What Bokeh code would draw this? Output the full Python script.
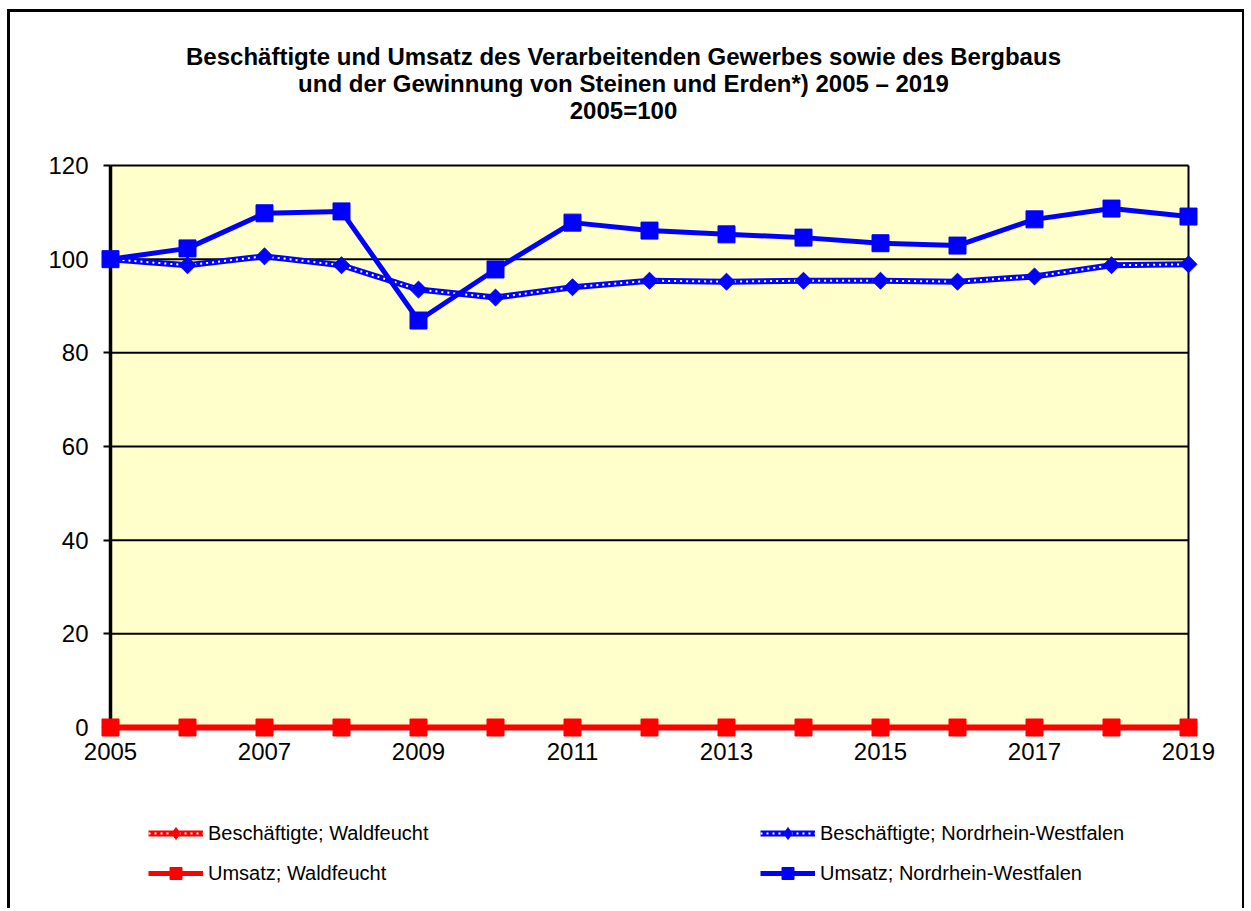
import math
from bokeh.plotting import figure
from bokeh.models import Range1d, FixedTicker, Legend, LegendItem, Title
from bokeh.embed import file_html
from bokeh.resources import INLINE

years = [2005, 2006, 2007, 2008, 2009, 2010, 2011, 2012, 2013, 2014, 2015, 2016, 2017, 2018, 2019]
besch_wald = [0, 0, 0, 0, 0, 0, 0, 0, 0, 0, 0, 0, 0, 0, 0]
umsatz_wald = [0, 0, 0, 0, 0, 0, 0, 0, 0, 0, 0, 0, 0, 0, 0]
besch_nrw = [100, 98.7, 100.6, 98.7, 93.5, 91.8, 94.0, 95.4, 95.2, 95.4, 95.4, 95.2, 96.3, 98.7, 98.9]
umsatz_nrw = [100, 102.3, 109.8, 110.2, 86.9, 97.8, 107.8, 106.1, 105.3, 104.6, 103.4, 102.9, 108.5, 110.8, 109.1]
y_ticks = [0, 20, 40, 60, 80, 100, 120]
x_ticks = [2005, 2007, 2009, 2011, 2013, 2015, 2017, 2019]
labels = ["Beschäftigte; Waldfeucht", "Umsatz; Waldfeucht",
          "Beschäftigte; Nordrhein-Westfalen", "Umsatz; Nordrhein-Westfalen"]
title_lines = ["Beschäftigte und Umsatz des Verarbeitenden Gewerbes sowie des Bergbaus",
               "und der Gewinnung von Steinen und Erden*) 2005 – 2019",
               "2005=100"]

FONT = "Liberation Sans"
BLUE = "#0000FF"
RED = "#FF0000"

# geometry of the data area inside the (large) frame, in px
data_w, data_h = 1078, 562
pad_l, pad_r, pad_t, pad_b = 84, 32, 10, 184
kx = (years[-1] - years[0]) / data_w
ky = (y_ticks[-1] - y_ticks[0]) / data_h

p = figure(width=1237, height=899, output_backend="svg", toolbar_location=None, title=None,
           x_range=Range1d(years[0] - pad_l * kx, years[-1] + pad_r * kx),
           y_range=Range1d(y_ticks[0] - pad_b * ky, y_ticks[-1] + pad_t * ky),
           min_border_left=16, min_border_right=27, min_border_top=143, min_border_bottom=0)
p.styles = {"margin-left": "7px", "margin-top": "9px",
            "border-left": "3px solid black", "border-top": "3px solid black",
            "border-right": "2px solid black"}
p.outline_line_color = None
p.background_fill_color = "white"
p.border_fill_color = "white"
p.xgrid.visible = False
p.ygrid.visible = False

# spacer + three centred title lines (added bottom-up)
p.add_layout(Title(text=" ", text_font_size="1px", standoff=30), "above")
for line in reversed(title_lines):
    p.add_layout(Title(text=line, align="center", text_font=FONT, text_font_size="24px",
                       text_font_style="bold", text_color="black", standoff=-2), "above")

# plot area background and frame lines
bg = p.quad(left=[years[0]], right=[years[-1]], bottom=[y_ticks[0]], top=[y_ticks[-1]],
            fill_color="#FFFFCC", line_color=None)
bg.level = "image"
p.segment(x0=[years[0]] * (len(y_ticks) - 1), x1=[years[-1]] * (len(y_ticks) - 1),
          y0=y_ticks[1:], y1=y_ticks[1:], line_color="black", line_width=2)
p.segment(x0=[years[-1]], x1=[years[-1]], y0=[y_ticks[0]], y1=[y_ticks[-1]],
          line_color="black", line_width=2)

# axes placed at the data origin, drawn below the series
p.yaxis.fixed_location = years[0]
p.yaxis.bounds = (y_ticks[0], y_ticks[-1])
p.yaxis.ticker = FixedTicker(ticks=y_ticks)
p.yaxis.axis_line_width = 3.5
p.yaxis.major_tick_out = 7
p.yaxis.major_tick_in = 0
p.yaxis.major_tick_line_width = 2
p.yaxis.minor_tick_line_color = None
p.yaxis.major_label_standoff = 15
p.yaxis.major_label_text_font = FONT
p.yaxis.major_label_text_font_size = "24px"
p.yaxis.major_label_text_color = "black"
p.yaxis.level = "underlay"

p.xaxis.fixed_location = y_ticks[0]
p.xaxis.bounds = (years[0], years[-1])
p.xaxis.ticker = FixedTicker(ticks=x_ticks)
p.xaxis.axis_line_color = None
p.xaxis.major_tick_line_color = None
p.xaxis.minor_tick_line_color = None
p.xaxis.major_tick_out = 0
p.xaxis.major_tick_in = 0
p.xaxis.major_label_standoff = 15
p.xaxis.major_label_text_font = FONT
p.xaxis.major_label_text_font_size = "24px"
p.xaxis.major_label_text_color = "black"
p.xaxis.level = "underlay"

# series
ang = math.pi / 4
bw_l = p.line(years, besch_wald, line_color=RED, line_width=6)
bw_d = p.line(years, besch_wald, line_color="white", line_width=2, line_dash="2 4")
bw_m = p.scatter(years, besch_wald, marker="square", angle=ang, size=12, color=RED)
# diamond swatch for the legend (first data point, hidden under the square markers)
bw_k = p.scatter(years[:1], besch_wald[:1], marker="diamond", size=14, color=RED)

bn_l = p.line(years, besch_nrw, line_color=BLUE, line_width=6)
bn_d = p.line(years, besch_nrw, line_color="white", line_width=2, line_dash="2 4")
bn_m = p.scatter(years, besch_nrw, marker="square", angle=ang, size=12, color=BLUE)
bn_k = p.scatter(years[:1], besch_nrw[:1], marker="diamond", size=14, color=BLUE)

uw_l = p.line(years, umsatz_wald, line_color=RED, line_width=5)
uw_m = p.scatter(years, umsatz_wald, marker="square", size=17, color=RED)

un_l = p.line(years, umsatz_nrw, line_color=BLUE, line_width=5)
un_m = p.scatter(years, umsatz_nrw, marker="square", size=17, color=BLUE)

legend = Legend(items=[
    LegendItem(label=labels[0], renderers=[bw_l, bw_d, bw_k]),
    LegendItem(label=labels[1], renderers=[uw_l, uw_m]),
    LegendItem(label=labels[2], renderers=[bn_l, bn_d, bn_k]),
    LegendItem(label=labels[3], renderers=[un_l, un_m]),
], location=(122, 23), orientation="vertical", nrows=2,
    glyph_width=55, glyph_height=30, label_height=30, label_standoff=5,
    label_width=542, spacing=10, padding=0, margin=0,
    label_text_font=FONT, label_text_font_size="20px", label_text_color="black",
    background_fill_alpha=0, border_line_color=None)
p.add_layout(legend, "center")

open("out.html", "w").write(file_html(p, INLINE))
